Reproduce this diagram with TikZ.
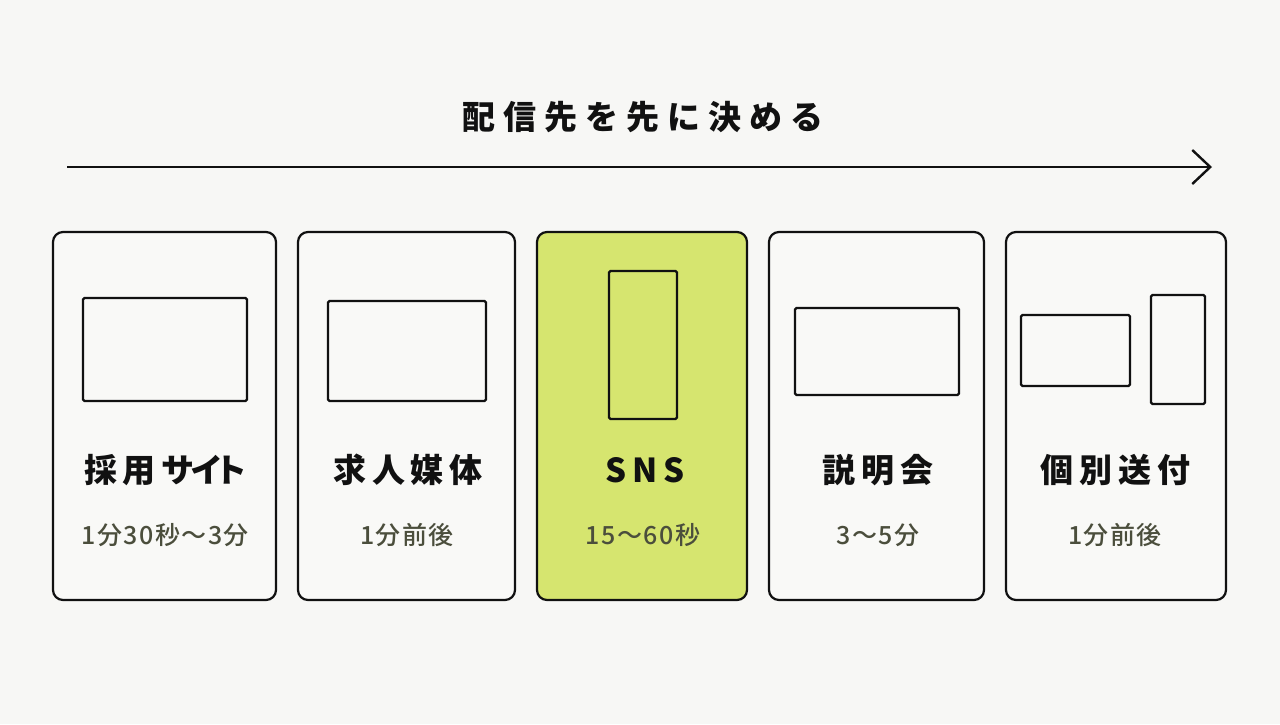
\documentclass[tikz,border=0pt]{standalone}
\usepackage{fontspec}
\setmainfont{Noto Sans CJK JP}
\newfontfamily\titlefont[LetterSpace=24]{Noto Sans CJK JP}
\newfontfamily\cardfont[LetterSpace=18]{Noto Sans CJK JP}
\newfontfamily\subfont[LetterSpace=6]{Noto Sans CJK JP Medium}
\usetikzlibrary{arrows.meta}
\definecolor{bg}{HTML}{F7F7F5}
\definecolor{cardfill}{HTML}{F9F9F7}
\definecolor{hl}{HTML}{D6E56F}
\definecolor{subtxt}{HTML}{4B4E3C}
\definecolor{ink}{HTML}{111111}
\tikzset{
  card/.style={draw=ink, line width=2.2pt, rounded corners=10pt, fill=cardfill, minimum height=368pt, inner sep=0pt},
  screen/.style={draw=ink, line width=2.2pt, rounded corners=1.5pt, inner sep=0pt},
  cardtitle/.style={text=ink, font=\cardfont\bfseries\fontsize{33}{38}\selectfont, inner sep=0pt},
  cardsub/.style={text=subtxt, font=\subfont\fontsize{25}{30}\selectfont, inner sep=0pt},
  flow/.style={draw=ink, line width=2.4pt, -{Straight Barb[length=18pt,width=34pt,line width=2.4pt]}}
}
\begin{document}
\begin{tikzpicture}[x=1pt,y=-1pt]
\fill[bg] (0,0) rectangle (1280,724);
\useasboundingbox (0,0) rectangle (1280,724);

\node[text=ink, font=\titlefont\bfseries\fontsize{33}{38}\selectfont, inner sep=0pt] (title) at (643,117) {配信先を先に決める};
\coordinate (a0) at (67,167);
\coordinate (a1) at (1212,167);
\draw[flow] (a0) -- (a1);

% cards
\node[card, minimum width=223pt] (c1) at (164.5,416) {};
\node[card, minimum width=217pt] (c2) at (406.5,416) {};
\node[card, minimum width=210pt, fill=hl] (c3) at (642,416) {};
\node[card, minimum width=215pt] (c4) at (876.5,416) {};
\node[card, minimum width=220pt] (c5) at (1116,416) {};

% screens
\node[screen, minimum width=164pt, minimum height=103pt] (s1) at (165,349.5) {};
\node[screen, minimum width=158pt, minimum height=100pt] (s2) at (407,351) {};
\node[screen, minimum width=68pt, minimum height=148pt] (s3) at (643,345) {};
\node[screen, minimum width=164pt, minimum height=87pt] (s4) at (877,351.5) {};
\node[screen, minimum width=109pt, minimum height=71pt] (s5a) at (1075.5,350.5) {};
\node[screen, minimum width=54pt, minimum height=109pt] (s5b) at (1178,349.5) {};

% titles
\node[cardtitle] (t1) at (166,470) {採用サ\kern-4ptイ\kern-9ptト};
\node[cardtitle] (t2) at (408,470) {求人媒体};
\node[cardtitle] (t3) at (645,470) {SNS};
\node[cardtitle] (t4) at (878,470) {説明会};
\node[cardtitle] (t5) at (1115.5,470) {個別送付};

% subtitles
\node[cardsub] (u1) at (165,535) {1分30秒～3分};
\node[cardsub] (u2) at (407,535) {1分前後};
\node[cardsub] (u3) at (643,535) {15～60秒};
\node[cardsub] (u4) at (878,535) {3～5分};
\node[cardsub] (u5) at (1115,535) {1分前後};
\end{tikzpicture}
\end{document}
